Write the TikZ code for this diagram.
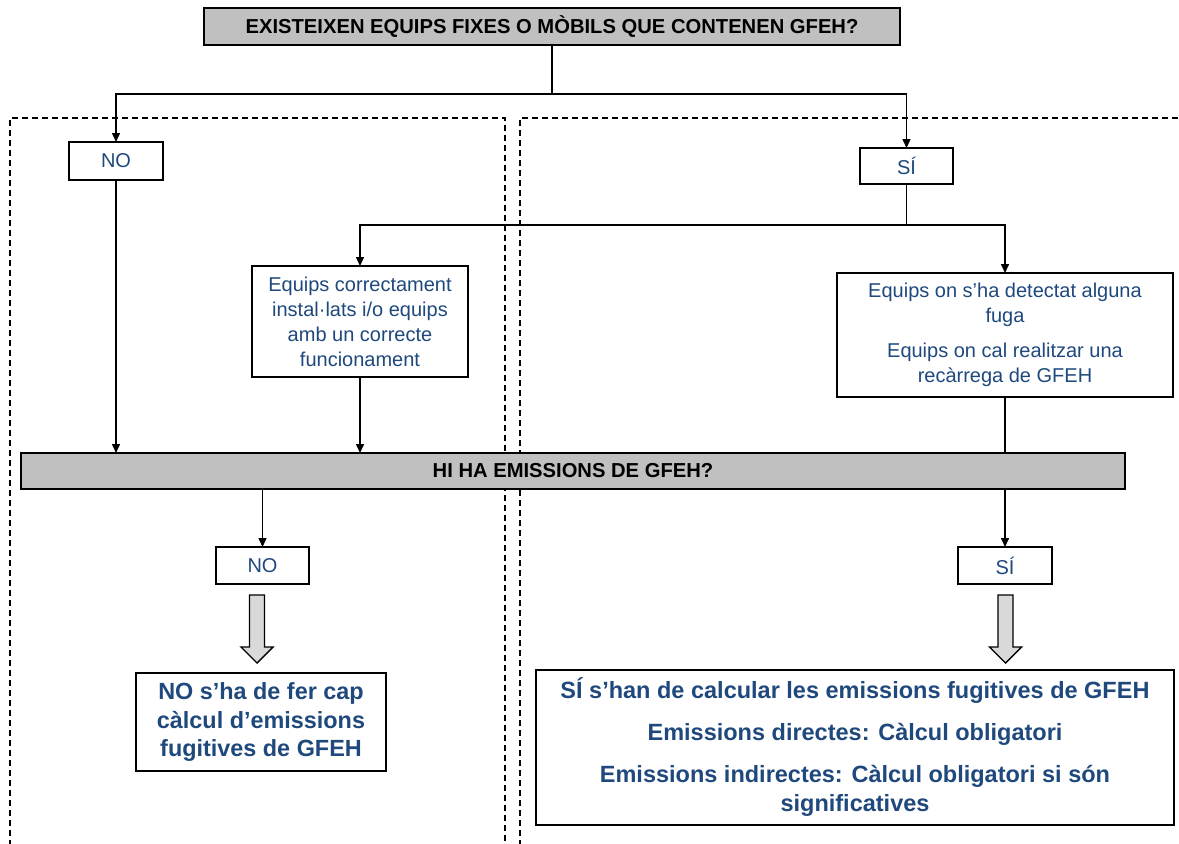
\documentclass[tikz,border=0pt]{standalone}
\usepackage{fontspec}
\setmainfont{Liberation Sans}
\usetikzlibrary{arrows.meta}
\definecolor{txtblue}{RGB}{31,73,125}
\definecolor{boxgray}{RGB}{192,192,192}
\definecolor{arrgray}{RGB}{217,217,217}
\begin{document}
\begin{tikzpicture}[x=1pt,y=-1pt,
  every node/.style={inner sep=0pt, outer sep=0pt},
  qbox/.style={draw=black, line width=1.6pt, fill=boxgray, align=center,
    font=\fontsize{20.2}{24}\selectfont\bfseries},
  ansbox/.style={draw=black, line width=1.6pt, fill=white, align=center,
    text=txtblue, font=\fontsize{20}{25}\selectfont},
  resbox/.style={draw=black, line width=1.6pt, fill=white, align=center,
    text=txtblue},
  arr/.style={line width=1.5pt, -{Triangle[length=9pt,width=8pt]}},
  conn/.style={line width=1.5pt},
  region/.style={line width=1.3pt, dash pattern=on 6pt off 4pt},
  blockarr/.style={draw=black, line width=1.4pt, fill=arrgray, line join=miter}
]
\useasboundingbox (0,0) rectangle (1179,844);

% dashed regions
\draw[region] (10,846) -- (10,118) -- (505,118) -- (505,846);
\draw[region] (520,846) -- (520,118) -- (1181,118);

% nodes
\node[qbox, minimum width=696pt, minimum height=37pt] (top) at (552,26.5)
  {EXISTEIXEN EQUIPS FIXES O MÒBILS QUE CONTENEN GFEH?};
\node[ansbox, minimum width=94pt, minimum height=38pt] (no1) at (116,161) {NO};
\node[ansbox, minimum width=93pt, minimum height=36pt] (si1) at (906.5,166) {SÍ};
\node[ansbox, minimum width=216pt, minimum height=111pt] (eq) at (360,321.5)
  {Equips correctament\\instal·lats i/o equips\\amb un correcte\\funcionament};
\node[ansbox, minimum width=336pt, minimum height=124pt] (det) at (1005,335)
  {Equips on s’ha detectat alguna\\fuga\\[10pt]Equips on cal realitzar una\\recàrrega de GFEH};
\node[qbox, minimum width=1104pt, minimum height=36pt] (bar) at (573,471)
  {HI HA EMISSIONS DE GFEH?};
\node[ansbox, minimum width=93pt, minimum height=37pt] (no2) at (262.5,565.5) {NO};
\node[ansbox, minimum width=94pt, minimum height=37pt] (si2) at (1005,565.5) {SÍ};
\node[resbox, minimum width=250pt, minimum height=98pt,
  font=\fontsize{23.4}{28.5}\selectfont\bfseries] (res1) at (261,722)
  {NO s’ha de fer cap\\càlcul d’emissions\\fugitives de GFEH};
\node[resbox, minimum width=638pt, minimum height=155pt,
  font=\fontsize{23.5}{29}\selectfont\bfseries] (res2) at (855,747.5)
  {SÍ s’han de calcular les emissions fugitives de GFEH\\[13pt]Emissions directes: Càlcul obligatori\\[13pt]Emissions indirectes: Càlcul obligatori si són\\significatives};

% connectors
\coordinate (s1) at (552,94);
\coordinate (s2) at (906.5,225);
\draw[conn] (top.south) -- (s1);
\draw[arr] (s1) -| (no1.north);
\draw[arr] (s1) -| (si1.north);
\draw[conn] (si1.south) -- (s2);
\draw[arr] (s2) -| (eq.north);
\draw[arr] (s2) -| (det.north);
\draw[arr] (no1.south) -- (no1.south |- bar.north);
\draw[arr] (eq.south) -- (eq.south |- bar.north);
\draw[conn] (det.south) -- (det.south |- bar.north);
\draw[arr] (no2.north |- bar.south) -- (no2.north);
\draw[arr] (si2.north |- bar.south) -- (si2.north);

% block arrows
\draw[blockarr] (249.5,595) -- (264.5,595) -- (264.5,647) -- (273,647) -- (257,663)
  -- (241,647) -- (249.5,647) -- cycle;
\draw[blockarr] (998,595) -- (1013,595) -- (1013,647) -- (1021.5,647) -- (1005.5,663)
  -- (989.5,647) -- (998,647) -- cycle;
\end{tikzpicture}
\end{document}
